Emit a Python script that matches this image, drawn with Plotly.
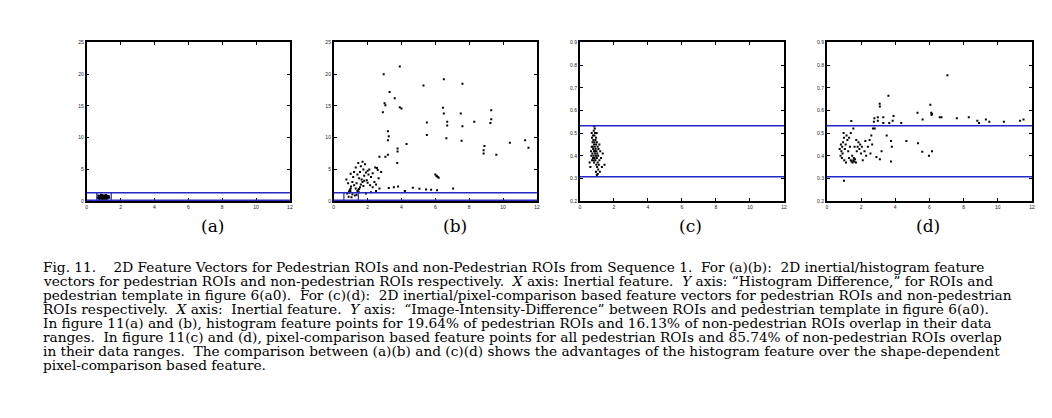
import plotly.graph_objects as go

W, H = 1052, 418

# ---------------- data ----------------
# (a) pedestrian ROIs: inertial vs histogram difference
xa = [0.65,0.70,0.72,0.75,0.78,0.80,0.82,0.85,0.88,0.90,
      0.92,0.95,0.98,1.00,1.02,1.05,1.08,1.10,1.12,1.15,
      1.18,1.20,1.22,1.25,1.28,1.30,1.33,0.68,0.76,0.84,
      0.93,1.03,1.13,1.23,0.87,0.97,1.07,1.17,0.79,1.27]
ya = [0.55,0.40,0.75,0.60,0.45,0.85,0.65,0.50,0.70,0.95,
      0.35,0.60,0.80,0.45,0.90,0.65,0.55,0.75,0.40,0.85,
      0.60,0.50,0.70,0.45,0.65,0.80,0.55,0.90,0.30,1.00,
      0.75,0.35,0.95,0.85,0.40,0.55,0.80,0.30,0.70,0.60]

# (b) non-pedestrian ROIs: inertial vs histogram difference
xb = [3.9,2.95,5.3,6.5,7.6,3.3,3.6,3.0,3.05,3.9,
      6.45,9.3,2.9,7.5,6.5,9.3,9.25,5.5,6.7,6.7,
      7.6,8.3,3.2,3.25,5.5,3.2,6.65,7.55,4.3,10.4,
      11.3,11.5,8.9,8.85,8.85,9.6,3.77,3.77,3.2,3.05,
      3.75,6.06,6.14,6.0,6.1,6.2,7.05,4.67,5.06,5.45,
      5.75,3.25,3.55,3.8,2.55,2.7,4.0,1.8,4.2,6.1,
      0.8,0.9,0.95,1.0,0.92,0.98,1.02,0.85,0.75,1.1,
      1.2,1.3,1.4,1.45,1.5,1.55,1.48,1.6,1.7,1.75,
      1.8,1.9,2.0,2.05,2.1,1.85,1.7,1.6,1.3,1.2,
      1.4,1.5,1.65,2.2,2.3,2.4,2.5,2.6,2.45,2.3,
      2.0,1.95,2.15,1.1,1.25,1.35,0.88,1.05,1.9,2.2,
      2.5,2.7,1.15,1.0,1.55,1.75,2.8,2.65,1.35,1.45]
yb = [21.2,20.0,18.2,19.2,18.5,17.2,16.2,15.4,15.1,14.8,
      14.7,14.3,14.0,13.8,13.8,12.9,12.3,12.4,12.5,11.9,
      11.8,12.5,11.0,10.2,10.4,9.6,9.9,9.5,9.0,9.2,
      9.6,8.4,8.7,8.0,7.5,7.3,8.3,7.8,7.3,7.0,
      6.0,4.0,3.8,4.2,3.9,3.7,2.0,2.1,1.95,1.85,
      1.8,2.05,2.2,2.3,5.2,7.0,14.6,3.2,1.6,1.7,
      1.2,1.5,1.8,2.0,1.3,1.6,2.3,2.8,3.4,3.0,
      2.5,2.0,1.6,1.8,1.9,2.2,1.4,2.6,3.0,2.4,
      4.0,4.5,4.8,4.2,5.0,5.8,6.2,5.5,5.3,4.6,
      4.2,3.6,3.4,3.8,4.4,3.0,2.6,4.9,5.3,2.2,
      2.9,3.3,2.5,1.1,0.9,1.0,0.7,0.6,1.2,1.4,
      1.6,2.0,3.8,4.3,4.6,5.0,4.6,3.6,2.8,6.0]

# (c) pedestrian ROIs: inertial vs image-intensity difference
xc = [0.85,0.88,0.82,0.90,0.78,0.86,0.95,0.72,0.80,0.92,
      1.00,0.75,0.84,0.96,1.05,0.70,0.88,0.79,0.93,1.10,
      0.66,0.83,0.98,1.20,0.74,0.90,1.03,1.35,0.68,0.81,
      0.95,1.08,0.77,0.87,1.00,1.15,0.72,0.92,1.05,0.84,
      1.12,0.97,0.62,1.02,1.30,1.08,0.95,1.05,1.00,1.18,
      0.86,0.76,0.89,0.82,1.45,0.58,1.25,0.99,0.70,1.15]
yc = [0.53,0.52,0.51,0.50,0.49,0.49,0.48,0.48,0.47,0.47,
      0.46,0.46,0.45,0.45,0.44,0.44,0.44,0.43,0.43,0.43,
      0.42,0.42,0.42,0.42,0.41,0.41,0.41,0.41,0.40,0.40,
      0.40,0.40,0.39,0.39,0.39,0.38,0.38,0.38,0.37,0.37,
      0.36,0.36,0.35,0.35,0.35,0.34,0.33,0.32,0.315,0.33,
      0.46,0.44,0.42,0.38,0.36,0.37,0.39,0.50,0.50,0.45]

# (d) non-pedestrian ROIs: inertial vs image-intensity difference
xd = [7.05,3.6,3.09,3.1,6.05,6.1,6.15,6.12,5.3,2.98,
      2.98,3.3,3.9,3.85,6.6,6.7,7.6,8.3,8.8,9.3,
      9.5,10.35,11.3,2.75,2.78,2.8,1.43,4.35,4.65,5.33,
      5.58,6.15,5.97,3.5,3.75,3.8,3.75,3.2,3.1,1.0,
      5.6,8.9,3.65,11.5,3.3,2.9,
      0.8,0.85,0.9,0.95,1.0,0.82,0.88,0.92,1.05,1.1,
      0.98,1.02,1.15,1.2,1.25,1.3,1.35,1.4,1.45,1.5,
      1.55,1.6,1.65,1.7,1.58,1.48,1.75,1.8,1.85,1.9,
      1.95,2.0,1.72,2.05,2.1,2.2,2.3,2.4,2.5,2.6,
      2.65,2.55,1.4,1.55,1.3,0.75,2.25,1.62,1.12,2.7]
yd = [0.755,0.665,0.63,0.617,0.625,0.59,0.585,0.58,0.59,0.57,
      0.555,0.57,0.575,0.555,0.57,0.57,0.565,0.57,0.555,0.56,
      0.55,0.55,0.555,0.55,0.565,0.52,0.553,0.545,0.465,0.455,
      0.418,0.42,0.40,0.49,0.465,0.44,0.375,0.42,0.385,0.29,
      0.56,0.545,0.545,0.56,0.545,0.395,
      0.40,0.42,0.44,0.46,0.48,0.45,0.39,0.41,0.43,0.45,
      0.50,0.38,0.49,0.47,0.42,0.39,0.44,0.38,0.375,0.37,
      0.38,0.375,0.385,0.37,0.39,0.40,0.42,0.44,0.46,0.43,
      0.45,0.41,0.47,0.44,0.38,0.42,0.40,0.44,0.47,0.49,
      0.45,0.41,0.50,0.52,0.48,0.43,0.465,0.44,0.37,0.52]

hist_bounds = [0.1, 1.3]        # histogram-feature data range (a)(b)
pix_bounds = [0.308, 0.533]     # pixel-comparison data range (c)(d)
inertial_bounds = [0.6, 1.45]   # inertial range of pedestrian ROIs

x_ticks = [0, 2, 4, 6, 8, 10, 12]
y_ticks_hist = [0, 5, 10, 15, 20, 25]
y_ticks_pix = [0.2, 0.3, 0.4, 0.5, 0.6, 0.7, 0.8, 0.9]
panel_labels = ["(a)", "(b)", "(c)", "(d)"]

caption_lines = [
    "Fig. 11.\u00a0\u00a0\u00a0 2D Feature Vectors for Pedestrian ROIs and non-Pedestrian ROIs from Sequence 1.\u00a0 For (a)(b):\u00a0 2D inertial/histogram feature",
    "vectors for pedestrian ROIs and non-pedestrian ROIs respectively.\u00a0 <i>X</i> axis: Inertial feature.\u00a0 <i>Y</i> axis: \u201cHistogram Difference,\u201d for ROIs and",
    "pedestrian template in figure 6(a0).\u00a0 For (c)(d):\u00a0 2D inertial/pixel-comparison based feature vectors for pedestrian ROIs and non-pedestrian",
    "ROIs respectively.\u00a0 <i>X</i> axis:\u00a0 Inertial feature.\u00a0 <i>Y</i> axis:\u00a0 \u201cImage-Intensity-Difference\u201d between ROIs and pedestrian template in figure 6(a0).",
    "In figure 11(a) and (b), histogram feature points for 19.64% of pedestrian ROIs and 16.13% of non-pedestrian ROIs overlap in their data",
    "ranges.\u00a0 In figure 11(c) and (d), pixel-comparison based feature points for all pedestrian ROIs and 85.74% of non-pedestrian ROIs overlap",
    "in their data ranges.\u00a0 The comparison between (a)(b) and (c)(d) shows the advantages of the histogram feature over the shape-dependent",
    "pixel-comparison based feature.",
]

# ---------------- layout helpers ----------------
px_left = [86, 334, 581, 829]
px_right = [290, 538, 786, 1035]
top_px, bot_px = 40, 201
label_x_px = [212, 456, 692, 931]
label_y_px = 226
cap_x_px = 40
cap_y0_px, cap_dy_px = 268, 14.2

BLUE = "#2626c4"

fig = go.Figure()
data = [(xa, ya), (xb, yb), (xc, yc), (xd, yd)]
for i, (xs, ys) in enumerate(data):
    sfx = "" if i == 0 else str(i + 1)
    fig.add_trace(go.Scatter(
        x=xs, y=ys, mode="markers", xaxis="x" + sfx, yaxis="y" + sfx,
        marker=dict(size=2.0, color="black", symbol="square", line=dict(width=0)),
        showlegend=False, hoverinfo="skip"))

axis_common = dict(showgrid=False, zeroline=False, showline=True, mirror="ticks",
                   linecolor="black", linewidth=1.6, ticks="inside", ticklen=3,
                   tickcolor="black", tickwidth=1,
                   tickfont=dict(size=5, color="#222", family="Arial"))

layout = dict(width=W, height=H, margin=dict(l=0, r=0, t=0, b=0),
              paper_bgcolor="white", plot_bgcolor="white", showlegend=False)
for i in range(4):
    sfx = "" if i == 0 else str(i + 1)
    dom_x = [px_left[i] / W, px_right[i] / W]
    dom_y = [1 - bot_px / H, 1 - top_px / H]
    if i < 2:
        yr, yt = [0, 25], y_ticks_hist
    else:
        yr, yt = [0.2, 0.9], y_ticks_pix
    layout["xaxis" + sfx] = dict(axis_common, domain=dom_x, range=[0, 12],
                                 tickvals=x_ticks, anchor="y" + sfx)
    layout["yaxis" + sfx] = dict(axis_common, domain=dom_y, range=yr,
                                 tickvals=yt, anchor="x" + sfx)
fig.update_layout(**layout)

# threshold lines
for i in range(4):
    sfx = "" if i == 0 else str(i + 1)
    bounds = hist_bounds if i < 2 else pix_bounds
    for k, yv in enumerate(bounds):
        fig.add_shape(type="line", xref="x" + sfx + " domain", yref="y" + sfx,
                      x0=0, x1=1, y0=yv, y1=yv,
                      line=dict(color=BLUE, width=2.2 if (i < 2 and k == 0) else 1.5))
    if i < 2:
        for xv in inertial_bounds:
            fig.add_shape(type="line", xref="x" + sfx, yref="y" + sfx,
                          x0=xv, x1=xv, y0=hist_bounds[0], y1=hist_bounds[1],
                          line=dict(color=BLUE, width=1.2))

# panel labels
for i, lab in enumerate(panel_labels):
    fig.add_annotation(text=lab, xref="paper", yref="paper",
                       x=label_x_px[i] / W, y=1 - label_y_px / H,
                       xanchor="center", yanchor="middle", showarrow=False,
                       font=dict(size=17, family="DejaVu Serif", color="black"))

# caption
for j, line in enumerate(caption_lines):
    fig.add_annotation(text=line, xref="paper", yref="paper",
                       x=cap_x_px / W, y=1 - (cap_y0_px + j * cap_dy_px) / H,
                       xanchor="left", yanchor="middle", showarrow=False,
                       font=dict(size=13.7, family="DejaVu Serif", color="black"))

fig.write_html("out.html")
